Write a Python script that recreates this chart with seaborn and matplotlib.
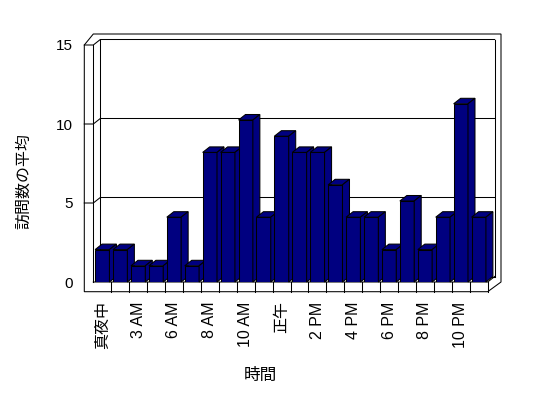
import matplotlib
matplotlib.use("Agg")
import matplotlib.pyplot as plt
import matplotlib.transforms as mtransforms
from matplotlib.patches import Polygon
from matplotlib.lines import Line2D
import seaborn as sns
import pandas as pd

# ---- data ----
categories = ['真夜中', '1 AM', '3 AM', '4 AM', '6 AM', '7 AM', '8 AM', '9 AM', '10 AM',
              '11 AM', '正午', '1 PM', '2 PM', '3 PM', '4 PM', '5 PM', '6 PM', '7 PM',
              '8 PM', '9 PM', '10 PM', '11 PM']
visits = [2, 2, 1, 1, 4, 1, 8, 8, 10, 4, 9, 8, 8, 6, 4, 4, 2, 5, 2, 4, 11, 4]
shown_labels = ['真夜中', '3 AM', '6 AM', '8 AM', '10 AM', '正午', '2 PM', '4 PM',
                '6 PM', '8 PM', '10 PM']
y_ticks = [0, 5, 10, 15]
x_title = '時間'
y_title = '訪問数の平均'

sns.set_style("white")
plt.rcParams['font.family'] = ['Liberation Sans', 'Noto Sans CJK JP', 'DejaVu Sans']

W, H = 548, 398
fig = plt.figure(figsize=(W / 100, H / 100), dpi=100)

# front plane of the 3D box (pixels, measured from top-left)
L, R, B_top = 93.3, 487.7, 282.0
bar_px_per_unit = 16.2
wall_px_per_unit = 15.8
rect = [L / W, (H - B_top) / H, (R - L) / W, 15 * bar_px_per_unit / H]

# frame / axis axes (wall scale)
axf = fig.add_axes(rect, zorder=0)
axf.set_ylim(0, 15 * bar_px_per_unit / wall_px_per_unit)
axf.set_xlim(0, 1)
for s in axf.spines.values():
    s.set_visible(False)
axf.patch.set_visible(False)
axf.set_xticks([])
axf.set_yticks(y_ticks)
axf.set_yticklabels([str(t) for t in y_ticks])
axf.tick_params(axis='y', length=0, pad=15, labelsize=11, colors='black')
axf.set_ylabel(y_title, fontsize=11.5, color='black')
axf.yaxis.label.set_va('center')
axf.yaxis.set_label_coords((24 - L) / (R - L), (B_top - 181) / (15 * bar_px_per_unit))

# bars axes
ax = fig.add_axes(rect, zorder=1)
df = pd.DataFrame({'hour': categories, 'visits': visits})
sns.barplot(data=df, x='hour', y='visits', order=categories, color='#000080',
            saturation=1, width=0.8, edgecolor='black', linewidth=0.75, ax=ax)
ax.set_xlim(-0.5, len(categories) - 0.5)
ax.set_ylim(0, 15)
ax.patch.set_visible(False)
for s in ax.spines.values():
    s.set_visible(False)
ax.set_yticks([])
ax.set_ylabel('')
ax.set_xticks(range(0, len(categories), 2))
ax.set_xticklabels(shown_labels, rotation=90, fontsize=11.5)
ax.tick_params(axis='x', length=0, pad=14, colors='black')
ax.set_xlabel(x_title, fontsize=12, color='black')
ax.xaxis.label.set_va('center')
ax.xaxis.set_label_coords((260 - L) / (R - L), (B_top - 375) / (15 * bar_px_per_unit))

ID = mtransforms.IdentityTransform()
DX, DY = 7.0, 5.5
lw = 0.75

def line(pts, z=0.5, target=axf):
    xs = [p[0] for p in pts]
    ys = [p[1] for p in pts]
    target.add_line(Line2D(xs, ys, transform=ID, color='black', lw=lw,
                           zorder=z, clip_on=False, solid_capstyle='projecting'))

# display coordinates of the box
Ld, Bd = ax.transAxes.transform((0, 0))
Rd, _ = ax.transAxes.transform((1, 0))
y15 = axf.transData.transform((0, 15))[1]
thick_l, thick_b, top_extra, right_extra = 9.0, 9.7, 11.0, 13.3

outer = Polygon([(Ld - thick_l, y15), (Ld, y15 + top_extra), (Rd + right_extra, y15 + top_extra),
                 (Rd + right_extra, Bd), (Rd, Bd - thick_b), (Ld - thick_l, Bd - thick_b)],
                closed=True, facecolor='white', edgecolor='black', lw=lw,
                transform=ID, clip_on=False, zorder=0.1)
axf.add_patch(outer)

# left wall inner edge, back wall edges
line([(Ld, y15), (Ld, Bd)])
line([(Ld + DX, y15 + DY), (Ld + DX, Bd + DY)])
line([(Rd + DX, y15 + DY), (Rd + DX, Bd + DY)])
# gridlines on back wall with ticks on left wall
for v in y_ticks[1:]:
    yv = axf.transData.transform((0, v))[1]
    line([(Ld - thick_l, yv), (Ld, yv), (Ld + DX, yv + DY), (Rd + DX, yv + DY)])
# floor
line([(Ld, Bd), (Rd, Bd), (Rd + DX, Bd + DY)])
line([(Ld + DX, Bd + DY), (Rd + DX, Bd + DY)])
line([(Rd, Bd), (Rd, Bd - thick_b)])
n = len(categories)
for k in range(1, n):
    xk = ax.transData.transform((k - 0.5, 0))[0]
    line([(xk, Bd), (xk, Bd - thick_b)])

# 3D faces for every bar
for i, p in enumerate(ax.patches):
    x0, y0 = ax.transData.transform((p.get_x(), p.get_y()))
    x1, y1 = ax.transData.transform((p.get_x() + p.get_width(), p.get_y() + p.get_height()))
    p.set_zorder(10 + i)
    top = Polygon([(x0, y1), (x0 + DX, y1 + DY), (x1 + DX, y1 + DY), (x1, y1)], closed=True,
                  facecolor='#000080', edgecolor='black', lw=lw, transform=ID,
                  clip_on=False, zorder=10 + i + 0.5)
    side = Polygon([(x1, y0), (x1, y1), (x1 + DX, y1 + DY), (x1 + DX, y0 + DY)], closed=True,
                   facecolor='#000080', edgecolor='black', lw=lw, transform=ID,
                   clip_on=False, zorder=10 + i + 0.5)
    ax.add_patch(top)
    ax.add_patch(side)

fig.savefig('out.png', dpi=100)
